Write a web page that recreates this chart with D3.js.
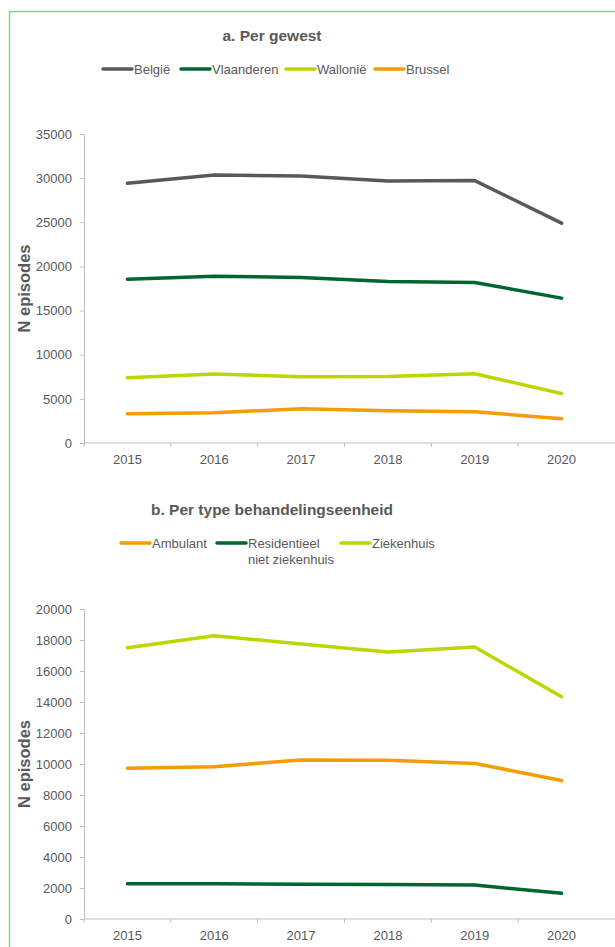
<!doctype html>
<html>
<head>
<meta charset="utf-8">
<title>N episodes</title>
<script src="https://d3js.org/d3.v7.min.js"></script>
<style>
body { margin: 0; background: #fff; font-family: 'Liberation Sans', Arial, sans-serif; }
svg text { fill: #595959; }
</style>
</head>
<body>
<div id="chart"></div>
<script>
// data
var years = ["2015", "2016", "2017", "2018", "2019", "2020"];

var belgie     = [29420, 30360, 30250, 29680, 29720, 24900];
var vlaanderen = [18560, 18900, 18740, 18290, 18180, 16410];
var wallonie   = [7390, 7810, 7500, 7540, 7840, 5610];
var brussel    = [3320, 3430, 3880, 3650, 3540, 2750];

var ambulant     = [9720, 9830, 10260, 10240, 10040, 8930];
var residentieel = [2280, 2280, 2240, 2220, 2190, 1660];
var ziekenhuis   = [17500, 18280, 17740, 17230, 17550, 14340];

var ticksA = [0, 5000, 10000, 15000, 20000, 25000, 30000, 35000];
var ticksB = [0, 2000, 4000, 6000, 8000, 10000, 12000, 14000, 16000, 18000, 20000];

var W = 615, H = 947;
var grey = "#595959", dkgreen = "#00652f", lime = "#bed600", orange = "#f59c00";

var svg = d3.select("#chart").append("svg")
  .attr("width", W).attr("height", H);

// frame (right / bottom cut off in the original)
svg.append("path")
  .attr("d", "M9.5," + H + "V11.5H" + W)
  .attr("fill", "none").attr("stroke", "#86d38c").attr("stroke-width", 1.5);

function panel(opt) {
  var g = svg.append("g");
  var x = d3.scaleBand().domain(years).range([84, 605]);
  var y = d3.scaleLinear().domain([0, opt.max]).range([opt.bottom, opt.top]);

  g.append("text").attr("x", 272).attr("y", opt.titleY)
    .attr("text-anchor", "middle").attr("font-weight", "bold")
    .attr("font-size", 15.5).text(opt.title);

  // legend
  opt.legend.forEach(function(l) {
    g.append("line").attr("x1", l.x).attr("x2", l.x + 29)
      .attr("y1", opt.legendY).attr("y2", opt.legendY)
      .attr("stroke", l.color).attr("stroke-width", 3.5).attr("stroke-linecap", "round");
    var t = g.append("text").attr("x", l.x + 31).attr("y", opt.legendY + 4.5)
      .attr("font-size", 13);
    l.label.forEach(function(s, i) {
      t.append("tspan").attr("x", l.x + 31).attr("dy", i ? 16 : 0).text(s);
    });
  });

  // y axis
  var ya = g.append("g").attr("transform", "translate(84,0)")
    .call(d3.axisLeft(y).tickValues(opt.ticks).tickSize(4).tickPadding(8).tickFormat(d3.format("d")));
  ya.selectAll("text").attr("font-size", 13).attr("font-family", "'Liberation Sans', Arial, sans-serif").attr("fill", grey);
  ya.selectAll("line,path").attr("stroke", "#bfbfbf");

  // x axis with ticks between categories
  var xa = g.append("g").attr("transform", "translate(0," + opt.bottom + ")");
  xa.append("line").attr("x1", 84).attr("x2", W).attr("stroke", "#bfbfbf");
  xa.selectAll(".tk").data(years).enter().append("line")
    .attr("x1", function(d) { return x(d); }).attr("x2", function(d) { return x(d); })
    .attr("y1", 0).attr("y2", 4).attr("stroke", "#bfbfbf");
  xa.selectAll(".lb").data(years).enter().append("text")
    .attr("x", function(d) { return x(d) + x.bandwidth() / 2; })
    .attr("y", 21).attr("text-anchor", "middle").attr("font-size", 13)
    .text(function(d) { return d; });

  g.append("text")
    .attr("transform", "translate(30," + (opt.top + opt.bottom) / 2 + ") rotate(-90)")
    .attr("text-anchor", "middle").attr("font-weight", "bold").attr("font-size", 16.5)
    .text("N episodes");

  var line = d3.line()
    .x(function(d, i) { return x(years[i]) + x.bandwidth() / 2; })
    .y(function(d) { return y(d); });

  opt.series.forEach(function(s) {
    g.append("path").datum(s.values)
      .attr("d", line).attr("fill", "none")
      .attr("stroke", s.color).attr("stroke-width", 3.5)
      .attr("stroke-linejoin", "round").attr("stroke-linecap", "round");
  });
}

panel({
  title: "a. Per gewest", titleY: 41, legendY: 69,
  top: 134, bottom: 443, max: 35000, ticks: ticksA,
  legend: [
    { x: 103, label: ["België"], color: grey },
    { x: 181, label: ["Vlaanderen"], color: dkgreen },
    { x: 286, label: ["Wallonië"], color: lime },
    { x: 375, label: ["Brussel"], color: orange }
  ],
  series: [
    { values: belgie, color: grey },
    { values: vlaanderen, color: dkgreen },
    { values: wallonie, color: lime },
    { values: brussel, color: orange }
  ]
});

panel({
  title: "b. Per type behandelingseenheid", titleY: 515, legendY: 543,
  top: 609, bottom: 919, max: 20000, ticks: ticksB,
  legend: [
    { x: 121, label: ["Ambulant"], color: orange },
    { x: 217, label: ["Residentieel", "niet ziekenhuis"], color: dkgreen },
    { x: 341, label: ["Ziekenhuis"], color: lime }
  ],
  series: [
    { values: ambulant, color: orange },
    { values: residentieel, color: dkgreen },
    { values: ziekenhuis, color: lime }
  ]
});
</script>
</body>
</html>
